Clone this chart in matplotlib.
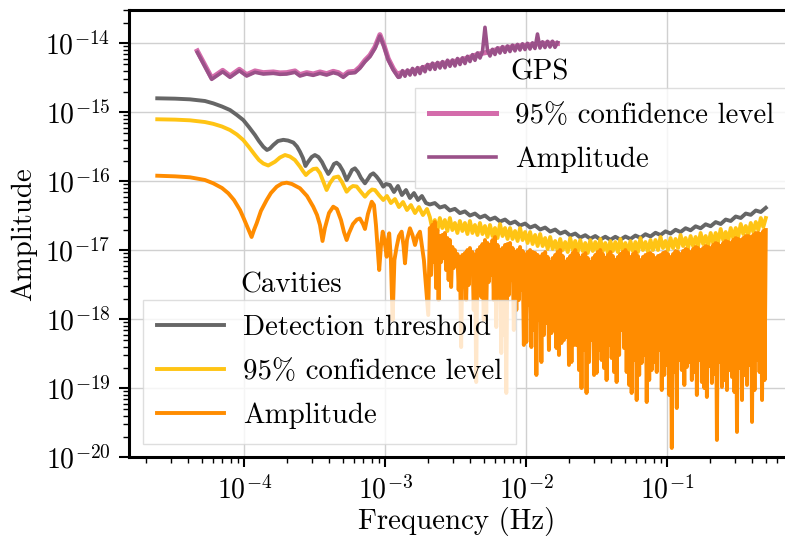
import numpy as np
import matplotlib
matplotlib.use("Agg")
import matplotlib.pyplot as plt
from matplotlib.ticker import LogLocator, NullFormatter, FixedLocator

# ---------------------------------------------------------------------------
# Spectra, stored as log10 values (frequency in Hz, amplitude dimensionless).
# Low-frequency parts are listed point by point; above ~2e-3 Hz the spectra are
# dense, so they are given on log-spaced frequency bins.
# ---------------------------------------------------------------------------

# Cavities - detection threshold
thr_logf = [-4.617, -4.491, -4.385, -4.279, -4.220, -4.158, -4.101, -4.052, -4.007, -3.967,
            -3.924, -3.896, -3.865, -3.839, -3.818, -3.794, -3.761, -3.723, -3.690, -3.652,
            -3.626, -3.605, -3.584, -3.566, -3.548, -3.522, -3.499, -3.474, -3.449, -3.428,
            -3.404, -3.385, -3.364, -3.345, -3.325, -3.300, -3.274, -3.254, -3.236, -3.215,
            -3.194, -3.172, -3.144, -3.123, -3.105, -3.085, -3.062, -3.038, -3.014, -2.995,
            -2.967, -2.938, -2.910, -2.882, -2.853, -2.825, -2.796, -2.768, -2.740, -2.711]
thr_loga = [-14.797, -14.802, -14.812, -14.836, -14.870, -14.916, -14.967, -15.039, -15.112, -15.213,
            -15.329, -15.416, -15.499, -15.546, -15.525, -15.474, -15.416, -15.399, -15.409, -15.438,
            -15.496, -15.571, -15.662, -15.778, -15.720, -15.648, -15.619, -15.648, -15.720, -15.807,
            -15.894, -15.836, -15.749, -15.730, -15.764, -15.851, -15.981, -15.909, -15.836, -15.812,
            -15.865, -15.952, -16.029, -15.967, -15.909, -15.884, -15.931, -15.996, -16.078, -16.039,
            -16.054, -16.155, -16.068, -16.199, -16.126, -16.242, -16.170, -16.271, -16.213, -16.315]
thr_hf_loga = [-16.336, -16.315, -16.380, -16.358, -16.423, -16.399, -16.461, -16.436, -16.496, -16.467,
               -16.525, -16.496, -16.554, -16.525, -16.583, -16.554, -16.612, -16.583, -16.641, -16.612,
               -16.670, -16.641, -16.699, -16.670, -16.728, -16.699, -16.757, -16.728, -16.786, -16.757,
               -16.815, -16.781, -16.831, -16.793, -16.844, -16.803, -16.848, -16.804, -16.846, -16.800,
               -16.836, -16.786, -16.819, -16.767, -16.800, -16.746, -16.778, -16.725, -16.757, -16.702,
               -16.735, -16.680, -16.710, -16.652, -16.681, -16.623, -16.651, -16.591, -16.619, -16.554,
               -16.575, -16.510, -16.532, -16.467, -16.486, -16.423, -16.445, -16.384]

# Cavities - 95% confidence level
conf_logf = [-4.617, -4.491, -4.385, -4.279, -4.220, -4.158, -4.101, -4.052, -4.007, -3.967,
             -3.924, -3.896, -3.865, -3.830, -3.804, -3.782, -3.747, -3.711, -3.676, -3.641,
             -3.605, -3.584, -3.563, -3.541, -3.511, -3.487, -3.463, -3.438, -3.416, -3.392,
             -3.364, -3.333, -3.307, -3.274, -3.250, -3.229, -3.203, -3.172, -3.144, -3.116,
             -3.094, -3.073, -3.045, -3.014, -2.988, -2.960, -2.931, -2.903, -2.874, -2.846,
             -2.818, -2.789, -2.761, -2.733, -2.704]
conf_loga = [-15.101, -15.106, -15.116, -15.141, -15.167, -15.206, -15.257, -15.322, -15.402, -15.503,
             -15.619, -15.691, -15.742, -15.771, -15.742, -15.716, -15.655, -15.619, -15.641, -15.691,
             -15.786, -15.851, -15.909, -15.865, -15.822, -15.815, -15.880, -16.010, -16.126, -16.025,
             -15.945, -15.931, -16.010, -16.151, -16.097, -16.068, -16.075, -16.155, -16.223, -16.155,
             -16.119, -16.126, -16.199, -16.271, -16.213, -16.315, -16.257, -16.373, -16.300, -16.416,
             -16.344, -16.460, -16.373, -16.489, -16.402]
conf_hf_loga = [
    -16.517, -16.691, -16.561, -16.720, -16.532, -16.677, -16.561, -16.720, -16.532, -16.706,
    -16.604, -16.749, -16.575, -16.720, -16.604, -16.764, -16.575, -16.749, -16.633, -16.778,
    -16.604, -16.764, -16.648, -16.807, -16.633, -16.793, -16.677, -16.822, -16.619, -16.793,
    -16.677, -16.836, -16.677, -16.836, -16.720, -16.865, -16.677, -16.851, -16.735, -16.894,
    -16.735, -16.909, -16.778, -16.938, -16.764, -16.938, -16.822, -16.981, -16.807, -16.981,
    -16.865, -17.010, -16.836, -16.996, -16.880, -17.025, -16.822, -16.996, -16.865, -17.025,
    -16.851, -17.010, -16.894, -17.039, -16.851, -17.010, -16.880, -17.025, -16.836, -17.010,
    -16.894, -17.039, -16.865, -17.010, -16.880, -17.025, -16.836, -17.010, -16.894, -17.039,
    -16.865, -17.010, -16.880, -17.025, -16.822, -16.996, -16.880, -17.025, -16.851, -16.996,
    -16.851, -16.996, -16.807, -16.967, -16.865, -16.996, -16.822, -16.967, -16.836, -16.967,
    -16.778, -16.938, -16.822, -16.967, -16.793, -16.938, -16.807, -16.938, -16.749, -16.909,
    -16.793, -16.938, -16.749, -16.894, -16.749, -16.880, -16.691, -16.851, -16.735, -16.865,
    -16.677, -16.822, -16.677, -16.807, -16.619, -16.764, -16.648, -16.778, -16.604, -16.735,
    -16.590, -16.706, -16.532, -16.662, -16.532]

# Cavities - amplitude
amp_logf = [-4.617, -4.491, -4.385, -4.279, -4.220, -4.158, -4.113, -4.073, -4.030, -4.002,
            -3.981, -3.963, -3.948, -3.931, -3.912, -3.882, -3.841, -3.811, -3.770, -3.733,
            -3.699, -3.662, -3.605, -3.555, -3.511, -3.484, -3.463, -3.445, -3.428, -3.399,
            -3.369, -3.343, -3.314, -3.293, -3.274, -3.257, -3.229, -3.201, -3.180, -3.158,
            -3.144, -3.123, -3.096, -3.080, -3.066, -3.043, -3.030, -3.018, -3.006, -2.990,
            -2.981, -2.972, -2.960, -2.948, -2.935, -2.919, -2.903, -2.884, -2.871, -2.860,
            -2.846, -2.825, -2.807, -2.789, -2.772, -2.754, -2.726, -2.695]
amp_loga = [-15.919, -15.928, -15.942, -15.981, -16.029, -16.097, -16.174, -16.271, -16.416, -16.546,
            -16.648, -16.735, -16.807, -16.706, -16.609, -16.430, -16.271, -16.170, -16.078, -16.032,
            -16.020, -16.039, -16.101, -16.213, -16.368, -16.488, -16.633, -16.865, -16.677, -16.459,
            -16.368, -16.401, -16.561, -16.735, -16.851, -16.749, -16.619, -16.554, -16.539, -16.619,
            -16.691, -16.474, -16.296, -16.343, -16.633, -17.286, -16.923, -16.730, -16.851, -17.093,
            -16.851, -16.754, -17.141, -18.010, -17.141, -16.948, -16.793, -16.730, -16.923, -17.188,
            -16.851, -16.681, -16.778, -16.923, -16.793, -16.730, -17.141, -17.938]
amp_hf_loga = [
    -16.677, -17.358, -16.633, -17.170, -16.590, -17.546, -16.706, -17.720,
    -16.793, -17.170, -16.778, -17.112, -16.749, -17.286, -16.822, -17.431,
    -16.851, -17.532, -16.952, -17.257, -16.996, -17.213, -17.054, -17.575,
    -17.097, -18.402, -17.068, -17.315, -17.039, -17.720, -16.996, -17.503,
    -16.967, -17.257, -17.025, -17.865, -17.068, -18.909, -16.996, -17.358,
    -16.952, -17.677, -16.909, -18.010, -16.851, -17.909, -16.894, -17.460,
    -16.923, -17.358, -16.851, -17.720, -16.807, -18.112, -16.923, -17.575,
    -16.996, -18.489, -16.967, -18.228, -16.923, -19.068, -16.909, -17.648,
    -16.894, -17.431, -16.967, -18.155, -17.025, -17.865, -16.996, -17.720,
    -16.952, -17.575, -17.010, -18.372, -17.068, -18.329, -17.025, -17.793,
    -16.996, -18.402, -17.025, -18.155, -17.039, -18.807, -17.068, -18.010,
    -17.097, -18.619, -17.054, -18.228, -17.025, -18.054, -17.097, -18.445,
    -17.170, -18.199, -17.112, -18.155, -17.068, -18.416, -17.025, -18.517,
    -16.996, -18.344, -17.083, -18.300, -17.170, -18.257, -17.126, -18.662,
    -17.083, -18.619, -17.039, -18.372, -16.996, -18.372, -17.054, -18.735,
    -17.112, -18.996, -17.068, -18.445, -17.039, -19.068, -17.112, -18.619,
    -17.170, -18.300, -17.112, -18.807, -17.068, -18.778, -17.025, -18.445,
    -16.996, -18.590, -17.054, -18.706, -17.112, -18.880, -17.068, -18.372,
    -17.025, -18.561, -17.083, -18.764, -17.141, -18.909, -17.097, -18.517,
    -17.054, -18.155, -17.025, -18.416, -16.996, -18.764, -17.039, -18.952,
    -17.097, -19.068, -17.054, -18.590, -17.025, -19.170, -17.083, -18.807,
    -17.141, -18.633, -17.097, -18.517, -17.068, -19.199, -17.054, -18.880,
    -17.039, -18.735, -17.068, -18.619, -17.112, -18.764, -17.083, -18.445,
    -17.068, -19.025, -17.039, -18.807, -17.025, -18.662, -17.054, -19.097,
    -17.097, -19.865, -17.054, -18.764, -17.010, -19.286, -17.025, -18.590,
    -17.054, -18.735, -17.010, -18.952, -16.981, -18.691, -16.996, -18.619,
    -17.025, -18.880, -16.981, -18.764, -16.952, -19.097, -16.967, -18.590,
    -16.996, -18.909, -16.967, -18.996, -16.938, -19.126, -16.952, -18.677,
    -16.967, -18.923, -16.923, -18.793, -16.894, -19.749, -16.909, -18.619,
    -16.938, -18.981, -16.894, -18.880, -16.865, -19.025, -16.880, -18.735,
    -16.894, -18.836, -16.851, -19.054, -16.822, -19.633, -16.836, -18.706,
    -16.851, -19.170, -16.822, -18.807, -16.793, -18.952, -16.793, -18.662,
    -16.807, -19.488, -16.778, -19.025, -16.749, -18.590, -16.749, -18.764,
    -16.764, -19.170, -16.720, -18.880, -16.706]

# GPS - amplitude and 95% confidence level
gps_logf = [-4.333, -4.231, -4.153, -4.101, -4.035, -3.983, -3.924, -3.865, -3.794, -3.747,
            -3.699, -3.640, -3.605, -3.557, -3.511, -3.463, -3.416, -3.369, -3.333, -3.298,
            -3.262, -3.215, -3.180, -3.144, -3.109, -3.073, -3.038, -3.009, -2.979, -2.943,
            -2.908]
gps_amp_loga = [-14.131, -14.522, -14.412, -14.493, -14.397, -14.474, -14.420, -14.445, -14.435, -14.449,
                -14.445, -14.420, -14.474, -14.445, -14.464, -14.435, -14.460, -14.426, -14.445, -14.493,
                -14.435, -14.426, -14.362, -14.267, -14.194, -14.073, -13.894, -14.049, -14.242, -14.387,
                -14.493]
gps_amp_hf_loga = [-14.488, -14.396, -14.477, -14.386, -14.460, -14.364, -14.455, -14.352, -14.438, -14.338,
                   -14.412, -14.306, -14.380, -14.287, -14.377, -14.277, -14.358, -14.265, -14.354, -14.245,
                   -14.333, -14.241, -14.328, -14.220, -14.307, -14.210, -14.293, -14.188, -14.264, -14.164,
                   -14.246, -14.139, -14.213, -14.119, -13.768, -14.104, -14.184, -14.087, -14.162, -14.065,
                   -14.141, -14.048, -14.131, -14.038, -14.119, -14.026, -14.109, -14.016, -14.097, -14.007,
                   -14.090, -14.000, -14.083, -13.993, -14.075, -13.865, -14.068, -13.978, -14.061, -13.971,
                   -14.054, -13.970, -14.058, -13.988]
gps_conf_loga = [-14.111, -14.502, -14.392, -14.473, -14.377, -14.454, -14.400, -14.425, -14.415, -14.429,
                 -14.425, -14.400, -14.454, -14.425, -14.444, -14.415, -14.440, -14.406, -14.425, -14.473,
                 -14.415, -14.406, -14.342, -14.247, -14.174, -14.053, -13.874, -14.029, -14.222, -14.367,
                 -14.473]
gps_conf_hf_loga = [-14.431, -14.409, -14.373, -14.322, -14.300, -14.275, -14.249, -14.206, -14.155,
                    -14.126, -14.083, -14.061, -14.039, -14.025, -14.010, -13.996, -14.003]

# frequency span of the dense (high-frequency) parts, Hz
cav_hf_span = (2.07e-3, 0.5)
gps_hf_span = (1.272e-3, 1.665e-2)

# legend texts
cav_labels = ["Detection threshold", "95% confidence level", "Amplitude"]
gps_labels = ["95% confidence level", "Amplitude"]

col_thr, col_conf, col_amp = "#666666", "#ffc414", "#ff8c00"
col_gps_conf, col_gps_amp = "#d46cab", "#9a5189"


def series(low_logf, low_loga, hf_loga, span):
    hf_f = np.geomspace(span[0], span[1], len(hf_loga))
    f = np.concatenate([10.0 ** np.asarray(low_logf), hf_f])
    a = 10.0 ** np.concatenate([np.asarray(low_loga), np.asarray(hf_loga)])
    return f, a


plt.rcParams.update({
    "font.family": "serif",
    "font.serif": ["cmr10"],
    "mathtext.fontset": "cm",
    "axes.formatter.use_mathtext": True,
    "font.size": 20,
})
txt_size = 20.8

W, H = 785, 536
fig = plt.figure(figsize=(W / 100, H / 100), dpi=100)
ax = fig.add_axes([128.5 / W, (H - 457.3) / H, (W - 128.5) / W, (457.3 - 10) / H])

lw = 2.8
f, a = series(thr_logf, thr_loga, thr_hf_loga, cav_hf_span)
l_thr, = ax.plot(f, a, color=col_thr, lw=lw, zorder=3)
f, a = series(conf_logf, conf_loga, conf_hf_loga, cav_hf_span)
l_conf, = ax.plot(f, a, color=col_conf, lw=lw, zorder=3)
f, a = series(amp_logf, amp_loga, amp_hf_loga, cav_hf_span)
l_amp, = ax.plot(f, a, color=col_amp, lw=lw, zorder=3)

f, a = series(gps_logf, gps_conf_loga, gps_conf_hf_loga, gps_hf_span)
l_gconf, = ax.plot(f, a, color=col_gps_conf, lw=3.6, zorder=3)
f, a = series(gps_logf, gps_amp_loga, gps_amp_hf_loga, gps_hf_span)
l_gamp, = ax.plot(f, a, color=col_gps_amp, lw=2.6, zorder=3)

ax.set_xscale("log")
ax.set_yscale("log")
ax.set_xlim(1.51e-5, 0.684)
ax.set_ylim(1e-20, 3.04e-14)

ax.xaxis.set_major_locator(FixedLocator([1e-4, 1e-3, 1e-2, 1e-1]))
ax.yaxis.set_major_locator(FixedLocator([1e-20, 1e-19, 1e-18, 1e-17, 1e-16, 1e-15, 1e-14]))
for axis in (ax.xaxis, ax.yaxis):
    axis.set_minor_locator(LogLocator(base=10, subs=np.arange(2, 10), numticks=300))
    axis.set_minor_formatter(NullFormatter())

ax.tick_params(which="major", length=7, width=1.5, direction="out", pad=6)
ax.tick_params(which="minor", length=4, width=1.0, direction="out")
for side in ("left", "bottom", "top"):
    ax.spines[side].set_linewidth(2.2)
ax.spines["right"].set_visible(False)

ax.grid(True, which="major", color="#d0d0d0", lw=1.0)
ax.set_axisbelow(True)

ax.set_xlabel("Frequency (Hz)", labelpad=2, fontsize=txt_size)
ax.set_ylabel("Amplitude", labelpad=6, fontsize=txt_size)

leg_kw = dict(loc="upper left", bbox_transform=fig.transFigure, borderaxespad=0,
              fancybox=False, framealpha=0.8, edgecolor="#d6d6d6", fontsize=txt_size,
              handlelength=2.3, handletextpad=0.65, borderpad=0.5, labelspacing=0.62)
cav_leg = ax.legend([l_thr, l_conf, l_amp], cav_labels,
                    bbox_to_anchor=(143 / W, 1 - 300 / H), **leg_kw)
cav_leg.get_frame().set_linewidth(1.0)
ax.add_artist(cav_leg)
gps_leg = ax.legend([l_gconf, l_gamp], gps_labels,
                    bbox_to_anchor=(415 / W, 1 - 88 / H), **leg_kw)
gps_leg.get_frame().set_linewidth(1.0)

fig.text(240 / W, 1 - 285 / H, "Cavities", ha="left", va="center", fontsize=txt_size)
fig.text(510 / W, 1 - 72 / H, "GPS", ha="left", va="center", fontsize=txt_size)

fig.savefig("out.png", dpi=100)
